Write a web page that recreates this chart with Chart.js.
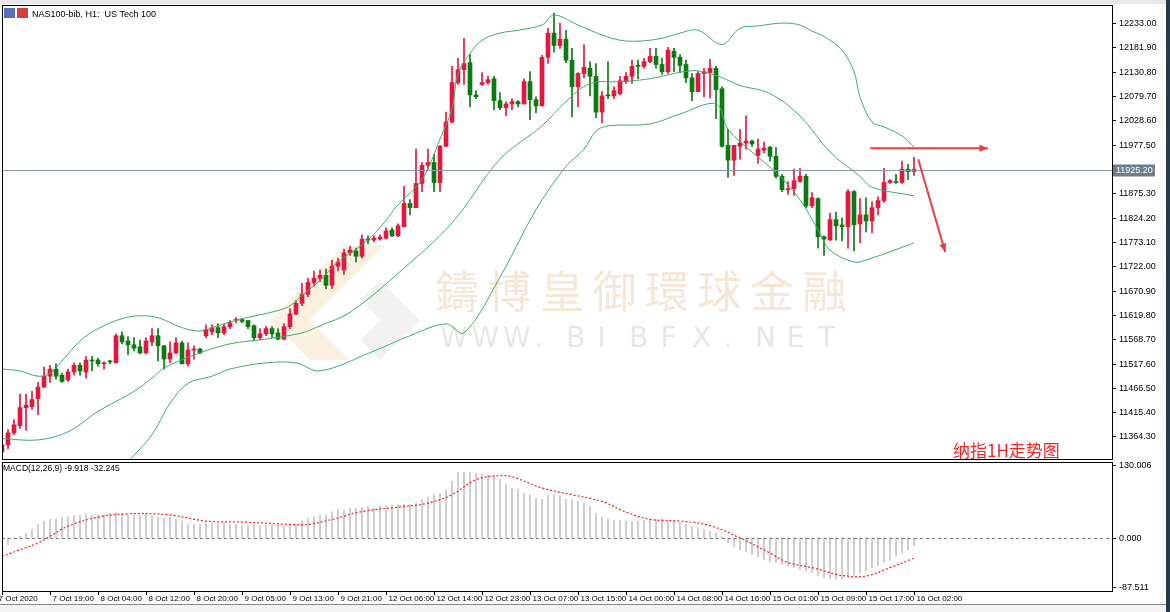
<!DOCTYPE html><html><head><meta charset="utf-8">
<script src="https://cdn.jsdelivr.net/npm/chart.js@4"></script>
<style>body{margin:0;background:#fff;width:1170px;height:612px;overflow:hidden;position:relative}
#c1{position:absolute;left:0;top:0}#c2{position:absolute;left:0;top:460px}
#strip{position:absolute;left:1166px;top:0;width:4px;height:612px;background:#2b3a4a}
#tabs{position:absolute;left:0;top:604px;width:1166px;height:8px;border-top:1px solid #888;background:#f4f4f4}
</style></head><body>
<canvas id="c1" width="1170" height="460"></canvas>
<canvas id="c2" width="1170" height="152"></canvas>
<div id="tabs"></div><div id="strip"></div>
<script>
// ---- data ----
const timeLabels=['7 Oct 2020','7 Oct 19:00','8 Oct 04:00','8 Oct 12:00','8 Oct 20:00','9 Oct 05:00','9 Oct 13:00','9 Oct 21:00','12 Oct 06:00','12 Oct 14:00','12 Oct 23:00','13 Oct 07:00','13 Oct 15:00','14 Oct 00:00','14 Oct 08:00','14 Oct 16:00','15 Oct 01:00','15 Oct 09:00','15 Oct 17:00','16 Oct 02:00'];
const opens=[11332,11347,11372,11387,11425,11427,11444,11468,11491,11506,11493,11483,11500,11514,11500,11525,11525,11517,11521,11519,11576,11565,11557,11553,11540,11563,11576,11555,11527,11540,11561,11517,11546,11548,11576,11584,11593,11582,11595,11608,11610,11608,11597,11572,11580,11591,11582,11569,11595,11622,11644,11663,11688,11697,11703,11682,11722,11714,11750,11754,11743,11779,11777,11779,11781,11798,11786,11805,11854,11845,11896,11934,11940,11898,11974,12025,12108,12135,12150,12082,12104,12108,12116,12070,12055,12063,12068,12063,12110,12072,12059,12161,12212,12186,12199,12155,12099,12127,12138,12121,12046,12080,12080,12085,12110,12121,12142,12142,12152,12163,12146,12131,12174,12161,12146,12118,12089,12127,12129,12138,12095,11976,11945,11974,11981,11985,11955,11966,11972,11953,11911,11883,11885,11900,11911,11849,11864,11784,11777,11820,11809,11805,11879,11811,11830,11817,11845,11860,11898,11900,11898,11926,11921];
const highs=[11357,11379,11400,11453,11453,11459,11478,11510,11514,11517,11497,11506,11519,11519,11533,11533,11529,11521,11525,11580,11584,11574,11572,11567,11572,11591,11591,11555,11563,11572,11565,11561,11555,11550,11599,11599,11601,11601,11608,11614,11612,11608,11599,11591,11595,11595,11591,11601,11633,11650,11686,11697,11712,11714,11716,11735,11739,11758,11764,11760,11788,11786,11786,11788,11803,11803,11811,11890,11862,11968,11940,11968,11957,11976,12046,12142,12159,12201,12167,12091,12129,12121,12121,12087,12068,12074,12070,12116,12131,12078,12165,12222,12254,12233,12218,12180,12129,12188,12152,12148,12089,12152,12099,12121,12129,12155,12155,12159,12180,12180,12159,12182,12180,12167,12155,12127,12131,12138,12157,12142,12099,12010,11976,12010,12038,11987,11989,11983,11974,11972,11915,11900,11926,11928,11915,11877,11866,11786,11834,11836,11824,11883,11881,11864,11866,11858,11868,11928,11904,11915,11943,11936,11951];
const lows=[11321,11338,11368,11381,11377,11421,11410,11468,11478,11485,11478,11480,11493,11493,11487,11502,11512,11506,11517,11519,11559,11536,11544,11538,11538,11555,11523,11506,11519,11538,11517,11512,11527,11538,11572,11578,11572,11578,11591,11603,11603,11591,11565,11567,11576,11572,11567,11567,11591,11620,11639,11658,11680,11690,11675,11675,11712,11705,11745,11731,11739,11769,11773,11777,11779,11784,11784,11805,11830,11845,11879,11926,11879,11879,11974,12023,12104,12104,12057,12074,12102,12104,12051,12051,12038,12051,12057,12063,12030,12044,12059,12148,12172,12180,12150,12036,12057,12118,12080,12034,12023,12074,12074,12082,12106,12106,12116,12138,12150,12138,12125,12127,12131,12129,12108,12070,12089,12078,12076,12032,11972,11909,11913,11947,11968,11974,11938,11960,11943,11907,11879,11873,11871,11898,11845,11845,11760,11745,11777,11777,11775,11760,11754,11771,11794,11792,11830,11856,11896,11896,11896,11904,11913];
const closes=[11347,11372,11389,11425,11430,11442,11468,11491,11506,11491,11480,11500,11514,11502,11525,11523,11517,11519,11521,11576,11563,11557,11550,11540,11565,11576,11555,11527,11540,11561,11517,11546,11548,11540,11589,11593,11582,11595,11603,11610,11606,11595,11572,11580,11591,11580,11569,11595,11622,11644,11663,11688,11697,11703,11682,11722,11731,11750,11756,11743,11779,11777,11781,11783,11796,11786,11807,11854,11845,11896,11934,11940,11898,11974,12025,12108,12135,12148,12082,12078,12108,12114,12070,12055,12063,12068,12063,12110,12072,12059,12161,12212,12186,12199,12155,12099,12127,12140,12121,12046,12080,12080,12091,12112,12121,12142,12142,12152,12163,12146,12131,12176,12161,12144,12118,12089,12127,12131,12138,12093,11974,11945,11976,11981,11985,11979,11968,11970,11953,11911,11883,11885,11902,11911,11849,11866,11784,11779,11820,11807,11805,11879,11809,11830,11817,11845,11860,11898,11902,11898,11926,11921,11926];
const upperBand=[[0,11506],[3,11502],[6,11491],[8,11497],[10,11523],[13,11565],[16,11591],[20,11612],[23,11618],[26,11614],[30,11593],[33,11586],[36,11597],[40,11612],[43,11620],[46,11629],[48,11639],[50,11661],[53,11692],[56,11731],[60,11767],[63,11803],[66,11851],[70,11904],[73,11989],[75,12053],[76,12127],[78,12169],[80,12197],[83,12212],[86,12218],[90,12229],[92,12250],[96,12229],[100,12208],[103,12197],[106,12195],[110,12201],[113,12212],[116,12218],[120,12188],[123,12222],[126,12227],[130,12233],[133,12229],[135,12216],[137,12205],[140,12176],[142,12131],[143,12078],[145,12025],[147,12015],[150,11996],[152,11972]];
const middleBand=[[0,11360],[6,11357],[11,11374],[16,11417],[22,11459],[25,11487],[27,11508],[33,11540],[38,11559],[44,11569],[50,11582],[53,11597],[58,11625],[66,11707],[75,11813],[83,11947],[90,12017],[94,12068],[98,12106],[103,12110],[108,12116],[115,12133],[119,12123],[123,12102],[128,12085],[133,12038],[138,11962],[143,11911],[145,11888],[152,11870]];
const lowerBand=[[21,11311],[25,11368],[28,11434],[31,11476],[35,11491],[38,11506],[44,11519],[49,11519],[53,11502],[62,11544],[68,11576],[74,11601],[77,11582],[83,11699],[89,11841],[94,11932],[97,11968],[99,12006],[101,12017],[108,12021],[113,12042],[119,12063],[121,12010],[125,11962],[129,11919],[133,11862],[136,11798],[138,11756],[142,11731],[144,11735],[152,11771]];
const macdHist=[-18,-12,0,3,8,15,24,30,33,34,37,37,40,40,43,41,41,41,44,46,43,41,40,40,41,40,37,36,37,33,30,24,24,24,27,27,27,27,24,24,22,22,24,22,22,24,24,20,22,24,30,34,38,40,41,47,50,50,53,53,55,56,53,57,58,58,59,60,60,62,68,73,77,80,86,101,117,117,117,115,114,112,110,105,95,89,87,80,77,71,69,77,77,74,69,68,65,62,56,44,37,33,31,31,30,30,30,31,33,33,33,31,30,27,24,20,18,15,12,9,3,-9,-16,-21,-25,-30,-34,-39,-42,-44,-47,-50,-53,-56,-59,-62,-67,-71,-73,-73,-73,-69,-67,-63,-59,-53,-49,-43,-39,-33,-27,-21,-14];
const macdSignal=[[0,-33],[3,-21],[6,-9],[8,3],[11,21],[16,37],[21,43],[28,41],[34,30],[41,28],[48,24],[51,24],[55,33],[60,47],[67,56],[71,62],[75,77],[79,104],[83,111],[85,109],[90,89],[95,77],[100,65],[104,46],[108,33],[113,30],[118,22],[123,0],[128,-27],[131,-44],[135,-53],[140,-67],[144,-68],[148,-53],[152,-36]];
const priceTicks=[12233.00,12181.90,12130.80,12079.70,12028.60,11977.50,11875.30,11824.20,11773.10,11722.00,11670.90,11619.80,11568.70,11517.60,11466.50,11415.40,11364.30];
const macdTicks=[130.006,0,-87.511];
const currentPrice=11925.20;
const arrows=[[144.7,11970,164.3,11970],[152.7,11947,157.2,11752]];
// ---- build ----
const N=186;
const labels=[];for(let i=0;i<N;i++)labels.push(i%8===0&&i/8<timeLabels.length?timeLabels[i/8]:'');
const sparse=a=>{const r=new Array(N).fill(null);a.forEach(([i,v])=>r[i]=v);return r;};
const RED='#e3173f',GRN='#0b7a10';
const cols=opens.map((o,i)=>closes[i]>o?RED:GRN);
const FONT="'Liberation Sans', 'DejaVu Sans', sans-serif";
Chart.defaults.font.family=FONT;Chart.defaults.font.size=9;Chart.defaults.color='#000';
function axisLabels(c,ticks,dec){const x=c.ctx,ys=c.scales.y,a=c.chartArea;x.save();x.fillStyle='#000';x.strokeStyle='#000';x.font='9px '+FONT;x.textBaseline='middle';
 ticks.forEach(v=>{const y=Math.round(ys.getPixelForValue(v))+0.5;x.beginPath();x.moveTo(a.right,y);x.lineTo(a.right+4,y);x.stroke();x.fillText(v.toFixed(dec),a.right+7,y);});x.restore();}
const frame={id:'frame',afterDraw(c){const a=c.chartArea,x=c.ctx;x.save();x.strokeStyle='#000';x.lineWidth=1;x.strokeRect(a.left+0.5,a.top+0.5,a.right-a.left,a.bottom-a.top);x.restore();}};
const bandDs=(d)=>({type:'line',data:sparse(d),borderColor:'#3dae6a',borderWidth:1,pointRadius:0,spanGaps:true,tension:0.35,order:0});
const yHidden=(min,max)=>({position:'right',min,max,afterFit:s=>{s.width=58;},ticks:{display:false},grid:{display:false},border:{display:false}});
const mainPlugin={id:'mainp',
beforeDatasetsDraw(c){const x=c.ctx;x.save();
 x.fillStyle='rgba(240,215,170,0.35)';x.beginPath();x.moveTo(345,245);x.lineTo(385,245);x.lineTo(310,320);x.lineTo(350,360);x.lineTo(310,360);x.lineTo(270,320);x.closePath();x.fill();
 x.fillStyle='rgba(215,215,215,0.35)';x.beginPath();x.moveTo(380,280);x.lineTo(420,320);x.lineTo(380,360);x.lineTo(360,340);x.lineTo(380,320);x.lineTo(360,300);x.closePath();x.fill();
 x.fillStyle='rgba(236,200,165,0.45)';x.font="44px 'Noto Sans CJK TC'";x.textBaseline='middle';
 '鑄博皇御環球金融'.split('').forEach((ch,k)=>x.fillText(ch,435+k*52.5,291));
 x.fillStyle='rgba(200,200,200,0.45)';x.font="28px 'DejaVu Sans'";
 'WWW.BIBFX.NET'.split('').forEach((ch,k)=>x.fillText(ch,440+k*31.5,340));
 x.restore();},
afterDraw(c){const x=c.ctx,ys=c.scales.y,xs=c.scales.x,a=c.chartArea;axisLabels(c,priceTicks,2);x.save();
 const py=Math.round(ys.getPixelForValue(currentPrice))+0.5;
 x.strokeStyle='#8a9aa8';x.lineWidth=1;x.beginPath();x.moveTo(a.left,py);x.lineTo(a.right,py);x.stroke();
 x.fillStyle='#6e7d8c';x.fillRect(a.right+1,py-6,42,12);x.fillStyle='#fff';x.font='9px '+FONT;x.textBaseline='middle';x.fillText(currentPrice.toFixed(2),a.right+4,py);
 x.strokeStyle='#f03c3c';x.fillStyle='#f03c3c';x.lineWidth=2;
 arrows.forEach(([i1,v1,i2,v2])=>{const X1=xs.getPixelForValue(i1),Y1=ys.getPixelForValue(v1),X2=xs.getPixelForValue(i2),Y2=ys.getPixelForValue(v2);
  x.beginPath();x.moveTo(X1,Y1);x.lineTo(X2,Y2);x.stroke();const ang=Math.atan2(Y2-Y1,X2-X1);
  x.beginPath();x.moveTo(X2,Y2);x.lineTo(X2-9*Math.cos(ang-0.4),Y2-9*Math.sin(ang-0.4));x.lineTo(X2-9*Math.cos(ang+0.4),Y2-9*Math.sin(ang+0.4));x.closePath();x.fill();});
 x.fillStyle='#f02828';x.font="17px 'Noto Sans CJK SC'";x.textBaseline='alphabetic';x.fillText('纳指1H走势图',953,457);
 x.fillStyle='#e8e8e8';x.fillRect(0,0,1166,4);
 x.fillStyle='#5570c0';x.fillRect(4,8,11,10);x.fillStyle='#d04040';x.fillRect(17,8,11,10);
 x.fillStyle='#000';x.font='9px '+FONT;x.fillText('NAS100-bib, H1:  US Tech 100',32,17);
 x.restore();}};
new Chart(document.getElementById('c1'),{type:'bar',
 data:{labels,datasets:[
  {data:opens.map((o,i)=>[lows[i],highs[i]]),backgroundColor:cols,barThickness:1,order:2},
  {data:opens.map((o,i)=>[o,closes[i]]),backgroundColor:cols,barThickness:4,minBarLength:1,order:1},
  bandDs(upperBand),bandDs(middleBand),bandDs(lowerBand)]},
 options:{responsive:false,devicePixelRatio:1,animation:false,layout:{padding:{left:2,top:5,bottom:1,right:0}},
  plugins:{legend:{display:false},tooltip:{enabled:false}},
  datasets:{bar:{grouped:false}},
  scales:{x:{display:false,offset:false},y:yHidden(11317,12271)}},
 plugins:[mainPlugin,frame]});
const macdPlugin={id:'mp',afterDraw(c){const x=c.ctx,ys=c.scales.y,xs=c.scales.x,a=c.chartArea;axisLabels(c,macdTicks,3);x.save();
 const z=Math.round(ys.getPixelForValue(0))+0.5;x.strokeStyle='#777';x.setLineDash([3,3]);x.beginPath();x.moveTo(a.left,z);x.lineTo(a.right,z);x.stroke();x.setLineDash([]);
 x.fillStyle='#000';x.font='8.5px '+FONT;x.textBaseline='alphabetic';x.fillText('MACD(12,26,9) -9.918 -32.245',3,11);
 x.font='8px '+FONT;x.textBaseline='top';x.strokeStyle='#000';
 labels.forEach((l,i)=>{if(!l)return;const px=Math.round(xs.getPixelForValue(i))+0.5;x.beginPath();x.moveTo(px,a.bottom);x.lineTo(px,a.bottom+4);x.stroke();x.fillText(l,px+(i===0?-4:2),a.bottom+4);});
 x.restore();}};
new Chart(document.getElementById('c2'),{type:'bar',
 data:{labels,datasets:[
  {data:macdHist,backgroundColor:'#c4c4c4',barThickness:1,order:2},
  {type:'line',data:sparse(macdSignal),borderColor:'#ff1a1a',borderWidth:1.2,borderDash:[2,2],pointRadius:0,spanGaps:true,tension:0.35,order:1}]},
 options:{responsive:false,devicePixelRatio:1,animation:false,layout:{padding:{left:2,top:2,bottom:21,right:0}},
  plugins:{legend:{display:false},tooltip:{enabled:false}},
  scales:{x:{display:false,offset:false},y:yHidden(-94.6,135.3)}},
 plugins:[macdPlugin,frame]});
</script></body></html>
